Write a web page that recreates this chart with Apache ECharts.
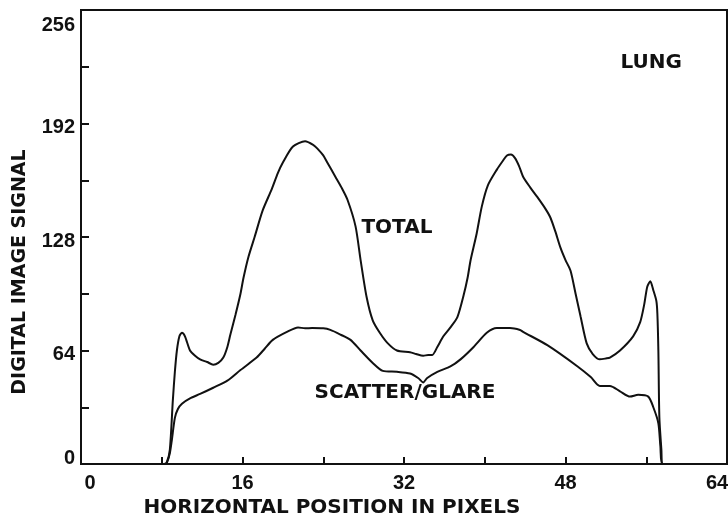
<!DOCTYPE html>
<html>
<head>
<meta charset="utf-8">
<script src="https://cdn.jsdelivr.net/npm/echarts@6/dist/echarts.min.js"></script>
<style>
  html, body { margin: 0; padding: 0; background: #fff; }
  #chart { width: 728px; height: 515px; }
</style>
</head>
<body>
<div id="chart"></div>
<script>
// Horizontal signal profile across a lung image: total signal vs scatter/glare
const totalX = [0, 8.2, 8.5, 8.8, 9.1, 9.3, 9.5, 9.75, 10.0, 10.3, 10.8, 11.3, 11.8, 12.5, 13.1, 13.6, 14.1, 14.5, 14.8, 15.3, 15.8, 16.1, 16.6, 17.2, 18.0, 18.9, 19.5, 20.0, 21.0, 22.2, 23.0, 23.4, 24.0, 24.4, 25.2, 25.8, 26.4, 27.2, 27.7, 28.3, 28.9, 29.6, 30.4, 31.3, 32.6, 33.2, 33.9, 34.4, 34.8, 35.3, 35.9, 36.6, 37.3, 37.9, 38.3, 38.6, 39.2, 39.7, 40.3, 41.2, 41.8, 42.2, 42.6, 43.0, 43.4, 43.8, 44.5, 45.2, 46.0, 46.5, 47.0, 47.5, 48.0, 48.5, 49.0, 49.5, 50.1, 50.7, 51.4, 52.0, 52.4, 53.4, 54.7, 55.4, 55.8, 56.1, 56.4, 56.7, 57.0, 57.1, 57.2, 57.3, 57.5, 57.6, 64];
const totalY = [0, 0, 1, 8, 36, 52, 64, 72, 74, 72, 64, 61, 59, 57.5, 56, 57, 60, 66, 73, 84, 96, 105, 117, 128, 143, 155, 164, 170, 179, 182, 180, 178, 174, 170, 162, 156, 149, 134, 115, 94, 81, 74, 68, 64, 63, 62, 61, 61.5, 61.5, 66, 72, 77, 83, 95, 105, 115, 130, 145, 157, 166, 171, 174, 174.5, 172.5, 168, 162, 156, 150.6, 144, 139, 131, 122, 115, 109, 96, 83, 68, 62, 59, 59.5, 60, 64, 72, 80, 90, 100, 103, 98, 92, 85, 64, 26, 8, 0, 0];

const scatterX = [0, 8.3, 8.5, 8.8, 9.0, 9.3, 9.6, 10.0, 10.8, 11.8, 13.1, 14.5, 15.8, 17.4, 18.2, 19.0, 20.4, 21.5, 22.2, 22.9, 24.0, 24.7, 25.7, 26.7, 27.7, 28.9, 29.9, 31.3, 32.6, 33.4, 33.9, 34.3, 35.3, 36.6, 37.6, 38.9, 40.2, 41.2, 42.5, 43.5, 43.8, 46.2, 49.2, 50.5, 51.4, 52.4, 53.4, 54.4, 55.2, 56.2, 56.7, 57.2, 57.4, 57.6, 64];
const scatterY = [0, 0, 0.5, 6, 13.5, 26, 31, 34, 37, 39.5, 43, 47, 53, 60, 65, 70, 74.5, 77, 76.5, 76.7, 76.5, 75.6, 73, 70, 64, 57, 52.5, 52, 51, 48.5, 46, 48.5, 52, 55, 59, 66, 74, 76.7, 76.7, 75.6, 74.5, 67, 55, 49, 44, 44, 41, 38, 39, 38, 32, 23, 10, 0, 0];

// Axis ticks and labelled values
const xTickStep = 8;
const xLabelled = [0, 16, 32, 48, 64];
const yTickStep = 32;
const yLabelled = [0, 64, 128, 192, 256];

// Annotations placed in data coordinates
const noteText = ['TOTAL', 'SCATTER/GLARE', 'LUNG'];
const noteX = [31.3, 32.1, 56.5];
const noteY = [133, 40, 226];

const ink = '#111';
const pairs = (xs, ys) => xs.map((x, i) => [x, ys[i]]);
const tickFont = { color: ink, fontFamily: 'Liberation Sans', fontWeight: 'bold' };

const chart = echarts.init(document.getElementById('chart'), null, { renderer: 'canvas' });

chart.setOption({
  animation: false,
  backgroundColor: '#fff',
  grid: {
    left: 81, right: 1, top: 10, bottom: 51,
    outerBoundsMode: 'none', containLabel: false,
    show: true, borderColor: ink, borderWidth: 2, backgroundColor: 'transparent'
  },
  xAxis: {
    type: 'value', min: 0, max: 64, interval: xTickStep,
    splitLine: { show: false },
    axisLine: { lineStyle: { color: ink, width: 2 } },
    axisTick: { inside: true, length: 7, lineStyle: { color: ink, width: 2 } },
    axisLabel: Object.assign({}, tickFont, {
      margin: 9, fontSize: 20,
      showMinLabel: true, showMaxLabel: true,
      formatter: v => {
        if (!xLabelled.includes(v)) return '';
        if (v === 0) return '{first|' + v + '}';
        if (v === 64) return '{last|' + v + '}';
        return String(v);
      },
      rich: {
        first: Object.assign({ padding: [0, 0, 0, 18], fontSize: 20 }, tickFont),
        last: Object.assign({ padding: [0, 20, 0, 0], fontSize: 20 }, tickFont)
      }
    }),
    name: 'HORIZONTAL POSITION IN PIXELS',
    nameLocation: 'middle', nameGap: 29,
    nameTextStyle: { color: ink, fontFamily: 'DejaVu Sans', fontWeight: 'bold', fontSize: 20, padding: [0, 144, 0, 0] }
  },
  yAxis: {
    type: 'value', min: 0, max: 256, interval: yTickStep,
    splitLine: { show: false },
    axisLine: { lineStyle: { color: ink, width: 2 } },
    axisTick: { inside: true, length: 8, lineStyle: { color: ink, width: 2 } },
    axisLabel: Object.assign({}, tickFont, {
      margin: 6, fontSize: 20,
      showMinLabel: true, showMaxLabel: true,
      formatter: v => {
        if (!yLabelled.includes(v)) return '';
        if (v === 0) return '{bottom|' + v + '}';
        if (v === 256) return '{top|' + v + '}';
        return '{mid|' + v + '}';
      },
      rich: {
        bottom: Object.assign({ padding: [0, 0, 12, 0], fontSize: 20 }, tickFont),
        top: Object.assign({ padding: [30, 0, 0, 0], fontSize: 20 }, tickFont),
        mid: Object.assign({ padding: [8, 0, 0, 0], fontSize: 20 }, tickFont)
      }
    }),
    name: 'DIGITAL IMAGE SIGNAL',
    nameLocation: 'middle', nameGap: 51,
    nameTextStyle: { color: ink, fontFamily: 'DejaVu Sans', fontWeight: 'bold', fontSize: 19, padding: [0, 70, 0, 0] }
  },
  series: [
    {
      name: 'Total', type: 'line', data: pairs(totalX, totalY),
      showSymbol: false, smooth: 0.25,
      lineStyle: { color: ink, width: 2 },
      markPoint: {
        symbol: 'rect', symbolSize: 0,
        label: {
          show: true, position: 'inside', color: ink,
          fontFamily: 'DejaVu Sans', fontWeight: 'bold', fontSize: 20,
          formatter: p => p.name
        },
        data: noteText.map((t, i) => ({ name: t, coord: [noteX[i], noteY[i]] }))
      }
    },
    {
      name: 'Scatter/Glare', type: 'line', data: pairs(scatterX, scatterY),
      showSymbol: false, smooth: 0.25,
      lineStyle: { color: ink, width: 2 }
    }
  ]
});
</script>
</body>
</html>
